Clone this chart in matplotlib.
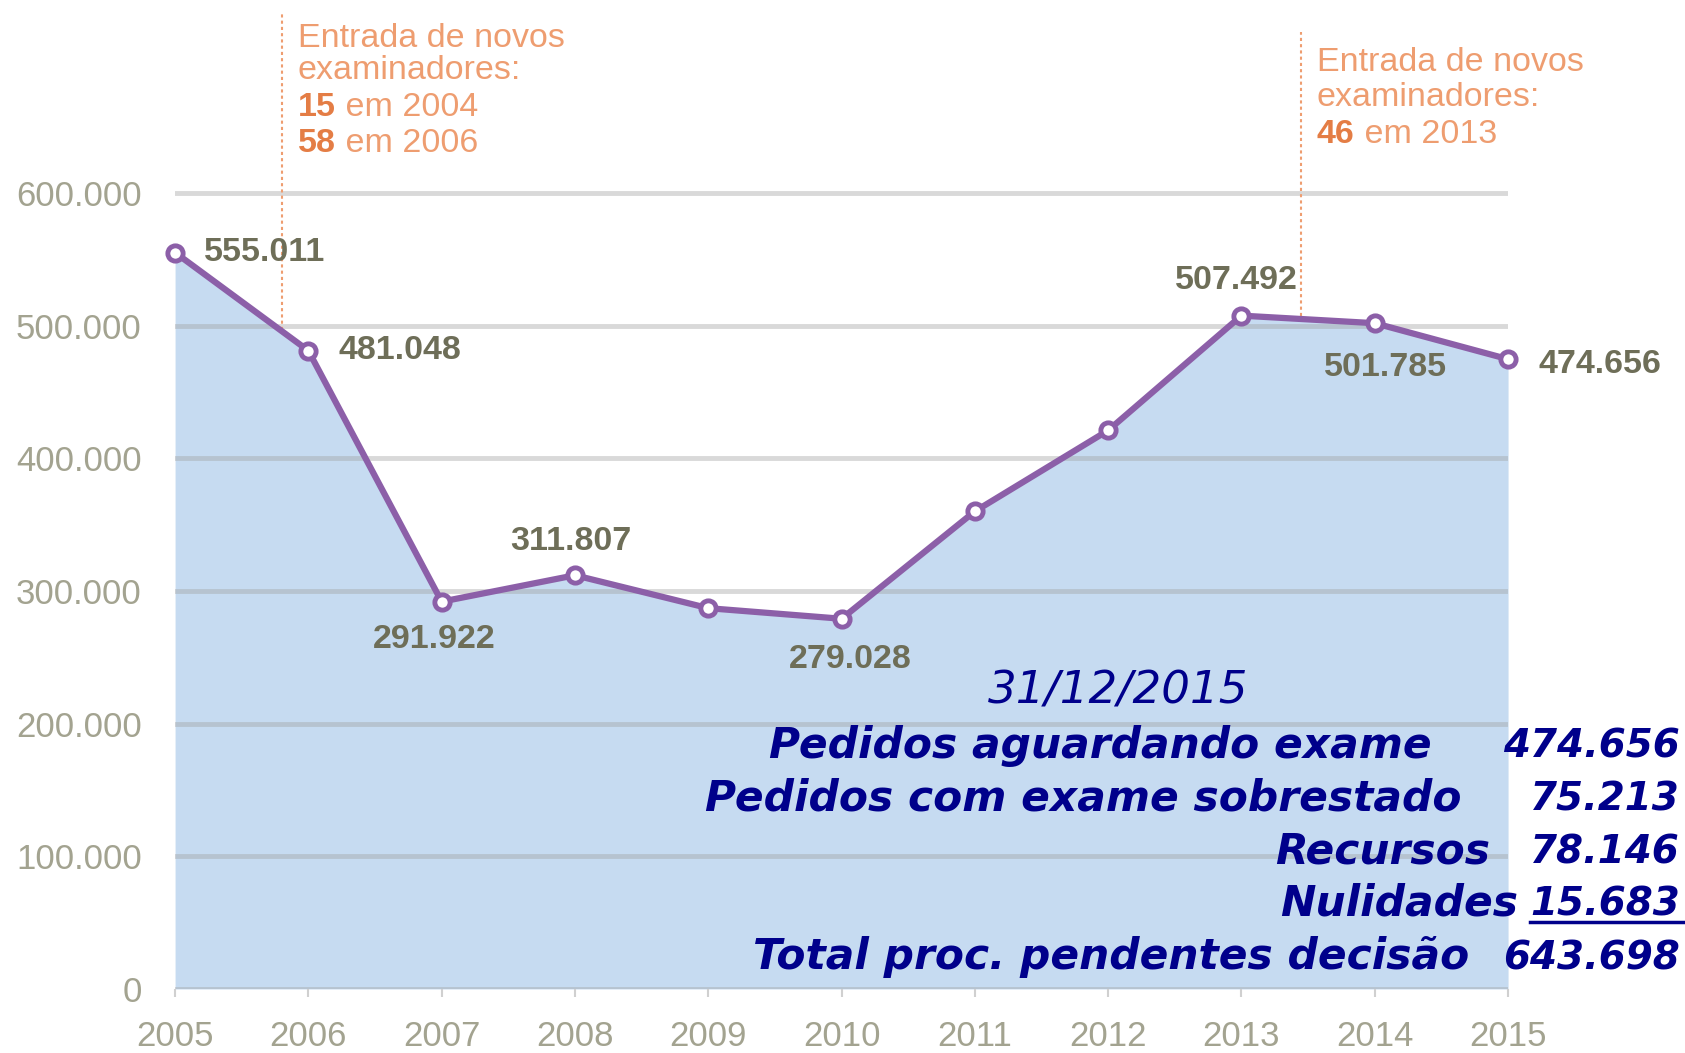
import matplotlib
matplotlib.use("Agg")
import matplotlib.pyplot as plt

# pending applications per year (31/12 of each year)
years = [2005, 2006, 2007, 2008, 2009, 2010, 2011, 2012, 2013, 2014, 2015]
pending = [555011, 481048, 291922, 311807, 287000, 279028, 360000, 421000,
           507492, 501785, 474656]
# which points get a value label, and where (offset in points, alignment)
labelled = {2005: (21, 0, 'left'), 2006: (22, 0, 'left'), 2007: (-5, -27, 'center'),
            2008: (-3, 24, 'center'), 2010: (6, -29, 'center'), 2013: (-4, 25, 'center'),
            2014: (8, -32, 'center'), 2015: (22, -4, 'left')}

yticks = [0, 100000, 200000, 300000, 400000, 500000, 600000]
ytick_labels = ['0', '100.000', '200.000', '300.000', '400.000', '500.000', '600.000']

# examiner hiring notes: (x of dotted line, line bottom, line top, text x, text lines, text y)
hire_notes = [
    (2005.8, 497000, 736000, 2005.92,
     [('', 'Entrada de novos'), ('', 'examinadores:'), ('15', ' em 2004'), ('58', ' em 2006')],
     [716500, 692500, 664000, 637000]),
    (2013.45, 507000, 721000, 2013.565,
     [('', 'Entrada de novos'), ('', 'examinadores:'), ('46', ' em 2013')],
     [698000, 672000, 644000]),
]

summary_date = '31/12/2015'
summary_labels = ['Pedidos aguardando exame', 'Pedidos com exame sobrestado',
                  'Recursos', 'Nulidades', 'Total proc. pendentes decisão']
summary_values = ['474.656', '75.213', '78.146', '15.683', '643.698']

PURPLE = '#8c5fa8'
FILL = '#c6dbf1'
ORANGE = '#ee9d70'
ORANGE_DARK = '#e47d45'
OLIVE = '#6e6e58'
TICK = '#a3a390'
NAVY = '#00008b'

plt.rcParams['font.family'] = ['Liberation Sans', 'DejaVu Sans']

fig = plt.figure(figsize=(16.85, 10.53), dpi=100)
ax = fig.add_axes([0.1039, 0.0608, 0.7911, 0.94])
ax.set_xlim(2005, 2015)
ax.set_ylim(0, 746000)

ax.fill_between(years, pending, 0, color=FILL, lw=0, zorder=1)
ax.plot(years, pending, color=PURPLE, lw=4.5, marker='o', ms=11, mfc='white',
        mec=PURPLE, mew=3.5, zorder=3, clip_on=False)

for yr, val in zip(years, pending):
    if yr in labelled:
        dx, dy, ha = labelled[yr]
        ax.annotate(f"{val:,}".replace(',', '.'), (yr, val), xytext=(dx, dy),
                    textcoords='offset points', ha=ha, va='center', fontsize=24.5,
                    fontweight='bold', color=OLIVE, zorder=4)

ax.set_yticks(yticks)
ax.set_yticklabels(ytick_labels)
ax.set_xticks(years)
ax.set_xticklabels([str(y) for y in years])
ax.tick_params(axis='y', length=0, pad=24, labelsize=25, labelcolor=TICK)
ax.tick_params(axis='x', length=6, width=1.5, color='#d0d0d0', pad=16,
               labelsize=25, labelcolor=TICK)
ax.set_axisbelow('line')
ax.yaxis.grid(True, color='#a0a0a0', alpha=0.4, lw=3.5)
for s in ax.spines.values():
    s.set_visible(False)

# hiring notes with dotted guide lines
for x, y0, y1, tx, lines, ys in hire_notes:
    ax.plot([x, x], [y0, y1], color=ORANGE, lw=1.5, ls=(0, (1.5, 1.5)), zorder=2)
    for (bold, rest), ty in zip(lines, ys):
        if bold:
            t = ax.text(tx, ty, bold, fontsize=24.5, fontweight='bold', color=ORANGE_DARK,
                        ha='left', va='center')
            ax.annotate(rest, xy=(1, 0), xycoords=t, ha='left', va='bottom',
                        fontsize=24.5, color=ORANGE)
        else:
            ax.text(tx, ty, rest, fontsize=24.5, color=ORANGE, ha='left', va='center')

# summary block
navy_font = dict(family='DejaVu Sans', style='italic', color=NAVY)
fig.text(0.6633, 0.3315, summary_date, fontsize=32.5, ha='center', va='baseline', **navy_font)
label_x = [0.8495, 0.8674, 0.8846, 0.901, 0.8718]
row_y = [0.2805, 0.2305, 0.1795, 0.1305, 0.0795]
num_texts = []
for lab, val, lx, ry in zip(summary_labels, summary_values, label_x, row_y):
    fig.text(lx, ry, lab, fontsize=30.5, fontweight='bold', ha='right', va='baseline', **navy_font)
    num_texts.append(fig.text(0.997, ry, val, fontsize=28, fontweight='bold', ha='right',
                              va='baseline', **navy_font))

# underline the last addend
fig.canvas.draw()
bb = num_texts[3].get_window_extent().transformed(fig.transFigure.inverted())
fig.add_artist(plt.Line2D([bb.x0, bb.x1 + 0.002], [row_y[3] - 0.006] * 2,
                          transform=fig.transFigure, color=NAVY, lw=2.5))

fig.savefig('out.png', dpi=100)
